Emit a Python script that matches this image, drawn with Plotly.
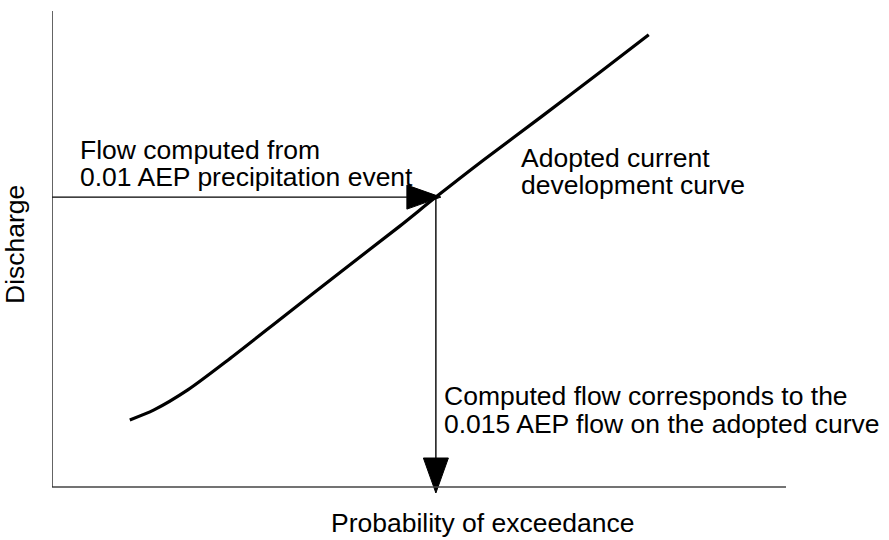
import plotly.graph_objects as go

# ---- data (arbitrary conceptual units) ----
exceedance_prob = [10.6, 13.9, 18.5, 24.0, 31.7, 39.5, 47.3, 52.3, 58.8, 66.6, 74.7, 81.3]
discharge = [14.1, 16.2, 20.4, 26.7, 36.0, 45.4, 54.7, 60.9, 68.7, 77.7, 87.2, 95.0]
event_discharge = 60.9      # flow computed from 0.01 AEP precipitation event
adopted_prob = 52.3         # corresponding probability on adopted curve

W, H = 889, 540
PL, PR, PT, PB = 52, 786, 11, 497          # plot-area edges in pixels
L, R, T, B = PL, W - PR, PT, H - PB
PW, PH = PR - PL, PB - PT
X_RANGE = [0, 100]
Y_RANGE = [-2.1, 100]
kx = PW / (X_RANGE[1] - X_RANGE[0])
ky = PH / (Y_RANGE[1] - Y_RANGE[0])

FONT = "Liberation Sans, Arial, sans-serif"
FS = 26.5

def px_x(px):
    return (px - PL) / PW

def px_y(py):
    return (PB - py) / PH

fig = go.Figure()

# adopted curve
fig.add_trace(go.Scatter(x=exceedance_prob, y=discharge, mode="lines",
                         line=dict(color="black", width=3.2, shape="spline", smoothing=0.8),
                         hoverinfo="skip"))

# horizontal arrow (from axis to curve)
h_tip = adopted_prob + 5 / kx
h_base = h_tip - 34 / kx
h_half = 12 / ky
fig.add_trace(go.Scatter(x=[0, h_base], y=[event_discharge, event_discharge], mode="lines",
                         line=dict(color="black", width=1.4), hoverinfo="skip"))
fig.add_trace(go.Scatter(x=[h_base, h_tip, h_base, h_base],
                         y=[event_discharge + h_half, event_discharge, event_discharge - h_half, event_discharge + h_half],
                         mode="lines", fill="toself", fillcolor="black",
                         line=dict(color="black", width=1), hoverinfo="skip"))

# vertical arrow (from curve down to probability axis)
v_tip = 0 - 6 / ky
v_base = v_tip + 35 / ky
v_half = 12.5 / kx
fig.add_trace(go.Scatter(x=[adopted_prob, adopted_prob], y=[event_discharge, v_base], mode="lines",
                         line=dict(color="black", width=1.4), hoverinfo="skip"))
fig.add_trace(go.Scatter(x=[adopted_prob - v_half, adopted_prob, adopted_prob + v_half, adopted_prob - v_half],
                         y=[v_base, v_tip, v_base, v_base],
                         mode="lines", fill="toself", fillcolor="black",
                         line=dict(color="black", width=1), hoverinfo="skip"))

# axis lines
fig.add_shape(type="line", xref="x", yref="y", x0=X_RANGE[0], x1=X_RANGE[1], y0=0, y1=0,
              line=dict(color="#444444", width=1.4))
fig.add_shape(type="line", xref="x", yref="y", x0=0, x1=0, y0=0, y1=Y_RANGE[1],
              line=dict(color="#222222", width=1.4))

texts = [
    ("Flow computed from", 78, 150, "left", 0),
    ("0.01 AEP precipitation event", 78, 177, "left", 0),
    ("Adopted current", 519, 158, "left", 0),
    ("development curve", 519, 185, "left", 0),
    ("Computed flow corresponds to the", 442, 396, "left", 0),
    ("0.015 AEP flow on the adopted curve", 442, 424, "left", 0),
    ("Probability of exceedance", 482, 523, "center", 0),
    ("Discharge", 15, 245, "center", -90),
]
for t, x, y, anc, ang in texts:
    fig.add_annotation(text=t, xref="paper", yref="paper", x=px_x(x), y=px_y(y),
                       xanchor=anc, yanchor="middle", showarrow=False, textangle=ang,
                       font=dict(family=FONT, size=FS, color="black"))

fig.update_layout(
    width=W, height=H, margin=dict(l=L, r=R, t=T, b=B),
    paper_bgcolor="white", plot_bgcolor="white", showlegend=False,
    xaxis=dict(range=X_RANGE, visible=False, fixedrange=True),
    yaxis=dict(range=Y_RANGE, visible=False, fixedrange=True),
)

fig.write_html("out.html", config={"displayModeBar": False},
               post_script="document.body.style.margin='0';")
